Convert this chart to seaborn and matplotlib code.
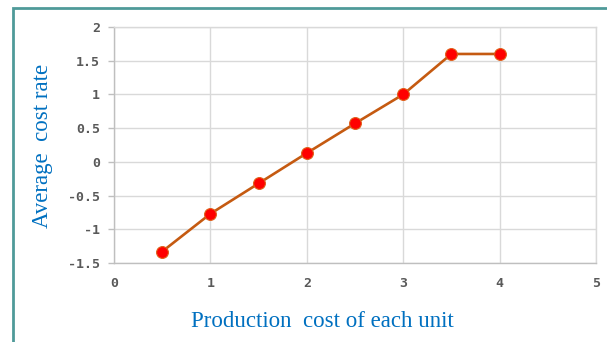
import matplotlib
matplotlib.use("Agg")
import matplotlib.pyplot as plt
import matplotlib.patches as mpatches
import seaborn as sns
import pandas as pd

# Average cost rate against production cost of each unit
unit_cost = [0.5, 1.0, 1.5, 2.0, 2.5, 3.0, 3.5, 4.0]
avg_cost_rate = [-1.33, -0.77, -0.32, 0.13, 0.57, 1.0, 1.6, 1.6]

x_ticks = [0, 1, 2, 3, 4, 5]
y_ticks = [-1.5, -1, -0.5, 0, 0.5, 1, 1.5, 2]
y_tick_labels = ["-1.5", "-1", "-0.5", "0", "0.5", "1", "1.5", "2"]

df = pd.DataFrame({"cost": unit_cost, "rate": avg_cost_rate})

sns.set_style("white")
fig = plt.figure(figsize=(6.07, 3.42), dpi=100)
ax = fig.add_axes([114 / 607, 1 - 263 / 342, (596 - 114) / 607, (263 - 27) / 342])

sns.lineplot(data=df, x="cost", y="rate", ax=ax, color="#C55A11", linewidth=1.9,
             marker="o", markersize=8.5, markerfacecolor="#FF0000",
             markeredgecolor="#E0601A", markeredgewidth=0.8, zorder=3)

ax.set_xlim(0, 5)
ax.set_ylim(-1.5, 2)
ax.set_xticks(x_ticks)
ax.set_xticklabels([str(t) for t in x_ticks])
ax.set_yticks(y_ticks)
ax.set_yticklabels(y_tick_labels)

grid_c = "#D9D9D9"
ax.grid(True, color=grid_c, linewidth=1.0)
ax.set_axisbelow(True)
for side in ["top", "right"]:
    ax.spines[side].set_color(grid_c)
    ax.spines[side].set_linewidth(1.0)
for side in ["left", "bottom"]:
    ax.spines[side].set_color("#BFBFBF")
    ax.spines[side].set_linewidth(1.0)

tick_font = dict(family="DejaVu Sans Mono", weight="bold", size=9.5)
ax.tick_params(axis="y", which="both", length=4, width=1.0, color="#BFBFBF",
               pad=6, labelcolor="#595959", direction="out", left=True)
ax.tick_params(axis="x", which="both", length=0, pad=10, labelcolor="#595959", bottom=False)
for lab in ax.get_xticklabels() + ax.get_yticklabels():
    lab.set_fontfamily(tick_font["family"])
    lab.set_fontweight(tick_font["weight"])
    lab.set_fontsize(tick_font["size"])

label_font = dict(family="Liberation Serif", size=16.5, color="#0070C0")
ax.set_xlabel("Production  cost of each unit", **label_font)
ax.xaxis.set_label_coords((322 - 114) / 482, -0.205)
ax.set_ylabel("Average  cost rate", **label_font)
ax.yaxis.set_label_coords(-(114 - 53) / 482, (263 - 146) / 236)

# Outer frame around the chart
frame = mpatches.Rectangle((13 / 607, -0.05), 1.1, 1 - 8 / 342 + 0.05,
                           transform=fig.transFigure, fill=False,
                           edgecolor="#4F9A99", linewidth=2.0, clip_on=False)
fig.patches.append(frame)

fig.savefig("out.png", dpi=100)
